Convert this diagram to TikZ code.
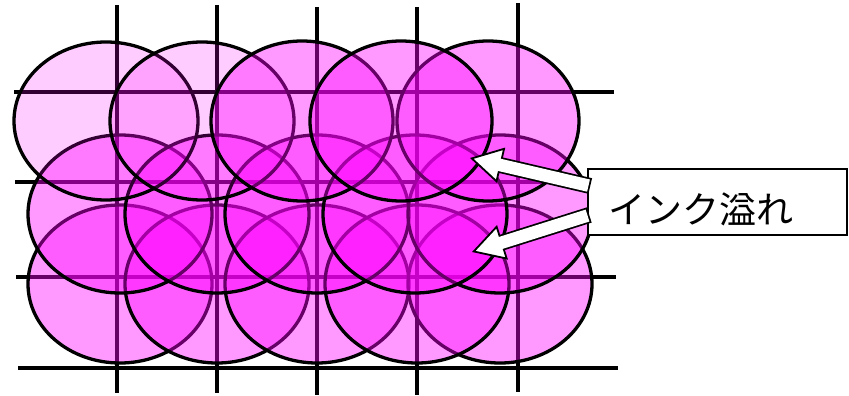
\documentclass[tikz,border=0pt]{standalone}
\usepackage{fontspec}
\usepackage{tikz}
\usetikzlibrary{arrows.meta}
\newfontfamily\jpfont{Noto Sans CJK JP}
\definecolor{inkpink}{HTML}{FF00FF}

\begin{document}
\begin{tikzpicture}[x=1pt,y=-1pt,
  gridline/.style={line width=3.3pt},
  inkdot/.style={draw=black,line width=3.3pt,fill=inkpink,fill opacity=0.4},
  lightdot/.style={inkdot,fill opacity=0.2},
  spill/.style={line width=16pt,-{Triangle[length=32pt,width=36pt,line width=1.8pt,fill=white]}},
  spillcore/.style={line width=12.5pt,white,shorten <=1.8pt,shorten >=25pt}]
  \useasboundingbox (0,0) rectangle (849,396);

  % grid of pixels
  \foreach \y/\a/\b in {92/14/614,182/15/614,277/16/616,368/18/618}
    \draw[gridline] (\a,\y) -- (\b,\y);
  \foreach \x/\a/\b in {117/5/393,217/5/393,317/7/395,417/7/395,518/3/392}
    \draw[gridline] (\x,\a) -- (\x,\b);

  % ink dots, bottom row first
  \foreach \x in {120,217,317,500,417}
    \draw[inkdot] (\x,284) ellipse [x radius=92,y radius=79];
  \foreach \x in {120,217,317,500,415}
    \draw[inkdot] (\x,214) ellipse [x radius=92,y radius=79];
  \draw[lightdot] (106,121) ellipse [x radius=92,y radius=79];
  \draw[lightdot] (202,121) ellipse [x radius=92,y radius=79];
  \foreach \x in {302,488,401}
    \draw[inkdot] (\x,121) ellipse [x radius=91,y radius=80];

  \node[draw,line width=1.5pt,fill=white,minimum height=66pt,inner ysep=4pt,inner xsep=20pt,text width=219pt,align=left,text height=44pt,text depth=0.6pt,font=\jpfont\fontsize{37}{40}\selectfont] (spillnote) at (717.5,202) {インク溢れ};

  \coordinate (spilltop) at (470,158);
  \coordinate (spillbot) at (472,252);

  \draw[spill] ([xshift=3pt,yshift=16pt]spillnote.west) -- (spilltop);
  \draw[spillcore] ([xshift=3pt,yshift=16pt]spillnote.west) -- (spilltop);
  \draw[spill] ([xshift=2pt,yshift=-13pt]spillnote.west) -- (spillbot);
  \draw[spillcore] ([xshift=2pt,yshift=-13pt]spillnote.west) -- (spillbot);
\end{tikzpicture}
\end{document}
